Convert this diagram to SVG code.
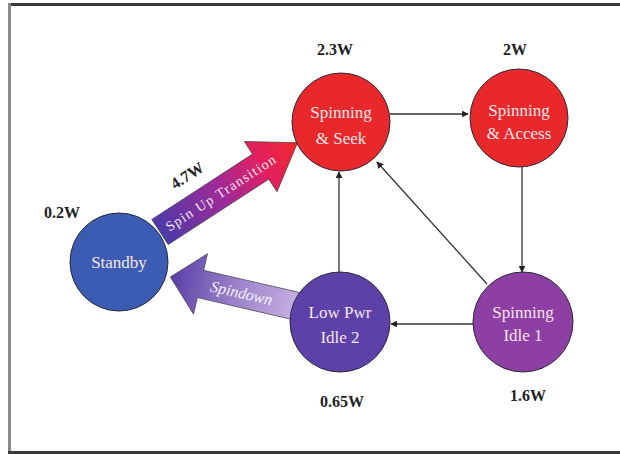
<svg xmlns="http://www.w3.org/2000/svg" width="620" height="454" viewBox="0 0 620 454">
<defs>
<style>
.node{stroke:#2a2a3a;stroke-width:1}
.nt{font-family:"Liberation Serif","Times New Roman",serif;font-size:17px;fill:#f6e6ea;text-anchor:middle}
.pw{font-family:"Liberation Serif","Times New Roman",serif;font-size:16px;font-weight:bold;fill:#222;text-anchor:middle}
.edge{stroke:#333;stroke-width:1.3;fill:none;marker-end:url(#ah)}
</style>
<marker id="ah" viewBox="0 0 10 10" refX="9" refY="5" markerWidth="7" markerHeight="7" markerUnits="userSpaceOnUse" orient="auto">
<path d="M0,0 L10,5 L0,10 z" fill="#222"/>
</marker>
<linearGradient id="gUp" gradientUnits="userSpaceOnUse" x1="0" y1="0" x2="164" y2="0">
<stop offset="0" stop-color="#4a3aa8"/>
<stop offset="0.45" stop-color="#a02a98"/>
<stop offset="0.75" stop-color="#e22060"/>
<stop offset="1" stop-color="#f02828"/>
</linearGradient>
<linearGradient id="gDown" gradientUnits="userSpaceOnUse" x1="0" y1="0" x2="129" y2="0">
<stop offset="0" stop-color="#c4aee0"/>
<stop offset="0.5" stop-color="#9a80c8"/>
<stop offset="1" stop-color="#5a3ea8"/>
</linearGradient>
</defs>
<rect x="0" y="0" width="620" height="454" fill="#ffffff"/>
<rect x="8" y="3" width="612" height="3" fill="#3a3a3a"/>
<rect x="8" y="3" width="3" height="451" fill="#8a8a8a"/>
<rect x="8" y="451" width="612" height="3" fill="#3a3a3a"/>

<g id="big-arrows">
<g id="spinup" transform="translate(160,232) rotate(-33)">
<polygon points="0,-15 120,-15 120,-30 164,0 120,30 120,15 0,15" fill="url(#gUp)" stroke="#333" stroke-width="0.6"/>
<text x="72" y="5" font-family="Liberation Serif,serif" font-size="14" fill="#f4e4f0" text-anchor="middle" textLength="128" lengthAdjust="spacing">Spin Up Transition</text>
</g>
<g id="spindown" transform="translate(296,306) rotate(193)">
<polygon points="0,-14 98,-14 98,-31 129,0 98,31 98,14 0,14" fill="url(#gDown)" stroke="#333" stroke-width="0.6"/>
<text x="56" y="5" font-family="Liberation Serif,serif" font-size="16" font-style="italic" fill="#f6f0fa" text-anchor="middle" transform="rotate(180 56 0)">Spindown</text>
</g>
</g>

<g id="connectors">
<line class="edge" x1="390" y1="114" x2="468" y2="114"/>
<line class="edge" x1="522" y1="167" x2="522" y2="272"/>
<line class="edge" x1="473" y1="324" x2="391" y2="324"/>
<line class="edge" x1="339" y1="272" x2="339" y2="172"/>
<line class="edge" x1="487" y1="284" x2="377" y2="162"/>
</g>

<g id="standby">
<circle class="node" cx="119" cy="262" r="49" fill="#3b5cb2"/>
<text class="nt" x="119" y="268">Standby</text>
</g>
<g id="seek">
<circle class="node" cx="341" cy="122" r="49" fill="#e8282a"/>
<text class="nt" x="341" y="118">Spinning</text>
<text class="nt" x="341" y="144">&amp; Seek</text>
</g>
<g id="access">
<circle class="node" cx="519" cy="118" r="49" fill="#e8282a"/>
<text class="nt" x="519" y="116">Spinning</text>
<text class="nt" x="519" y="139">&amp; Access</text>
</g>
<g id="lowpwr">
<circle class="node" cx="340" cy="322" r="50" fill="#5e41a8"/>
<text class="nt" x="340" y="318">Low Pwr</text>
<text class="nt" x="340" y="343">Idle 2</text>
</g>
<g id="idle1">
<circle class="node" cx="523" cy="322" r="50" fill="#8e3fa3"/>
<text class="nt" x="523" y="318">Spinning</text>
<text class="nt" x="523" y="341">Idle 1</text>
</g>

<g id="power-labels">
<text class="pw" x="62" y="218">0.2W</text>
<text class="pw" x="335" y="55">2.3W</text>
<text class="pw" x="515" y="55">2W</text>
<text class="pw" x="342" y="407">0.65W</text>
<text class="pw" x="528" y="401">1.6W</text>
<text class="pw" x="0" y="0" transform="translate(190,180) rotate(-33)">4.7W</text>
</g>
</svg>
